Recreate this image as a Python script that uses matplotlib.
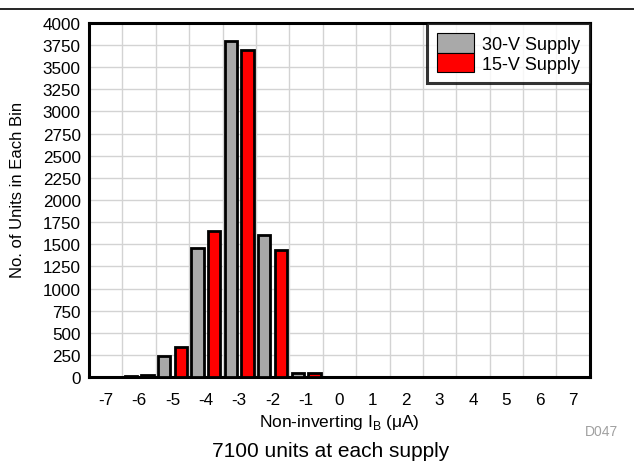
import matplotlib
matplotlib.use("Agg")
import matplotlib.pyplot as plt
import numpy as np
from matplotlib.lines import Line2D

plt.rcParams["font.family"] = ["Liberation Sans", "DejaVu Sans"]
plt.rcParams["axes.unicode_minus"] = False

bins = [-7, -6, -5, -4, -3, -2, -1, 0, 1, 2, 3, 4, 5, 6, 7]
counts_30v = [0, 15, 240, 1460, 3800, 1610, 45, 0, 0, 0, 0, 0, 0, 0, 0]
counts_15v = [0, 20, 335, 1650, 3700, 1430, 50, 0, 0, 0, 0, 0, 0, 0, 0]
series_labels = ["30-V Supply", "15-V Supply"]
y_ticks = list(range(0, 4001, 250))

fig = plt.figure(figsize=(6.34, 4.64), dpi=100)
ax = fig.add_axes([0.1404, 0.1853, 0.790, 0.763])

x = np.asarray(bins, dtype=float)
ax.bar(x - 0.25, counts_30v, width=0.37, color="#a9a9a9", edgecolor="black",
       linewidth=2.0, label=series_labels[0], zorder=3)
ax.bar(x + 0.25, counts_15v, width=0.37, color="#ff0000", edgecolor="black",
       linewidth=2.0, label=series_labels[1], zorder=3)

ax.set_xlim(-7.5, 7.5)
ax.set_ylim(0, 4000)
ax.set_xticks(bins)
ax.set_xticks(np.arange(-6.5, 7.0, 1.0), minor=True)
ax.set_yticks(y_ticks)
ax.tick_params(axis="both", which="both", length=0, labelsize=12.3)
ax.tick_params(axis="x", pad=11)
ax.tick_params(axis="y", pad=6)
ax.grid(True, which="minor", axis="x", color="#d3d3d3", linewidth=1.0, zorder=0)
ax.grid(True, which="major", axis="y", color="#d3d3d3", linewidth=1.0, zorder=0)
for sp in ax.spines.values():
    sp.set_linewidth(2.2)
    sp.set_color("black")

ax.set_xlabel("Non-inverting I$_\\mathregular{B}$ ($\\mathregular{\\mu}$A)", fontsize=12.5)
ax.set_ylabel("No. of Units in Each Bin", fontsize=12)
ax.xaxis.set_label_coords(0.499, -0.100)
ax.yaxis.set_label_coords(-0.128, 0.531)

leg = ax.legend(loc="upper right", borderaxespad=0, fancybox=False, fontsize=13,
                handlelength=2.05, handleheight=1.3, labelspacing=0.0,
                handletextpad=0.45, borderpad=0.55)
leg.get_frame().set_edgecolor("black")
leg.get_frame().set_linewidth(2.2)
for h in leg.legend_handles:
    h.set_linewidth(0.8)

fig.add_artist(Line2D([0, 1], [0.978, 0.978], transform=fig.transFigure,
                      color="black", linewidth=1.2))
fig.text(0.521, 0.026, "7100 units at each supply", ha="center", va="center", fontsize=15)
fig.text(0.975, 0.069, "D047", ha="right", va="center", fontsize=10, color="#a0a0a0")

fig.savefig("out.png", dpi=100)
